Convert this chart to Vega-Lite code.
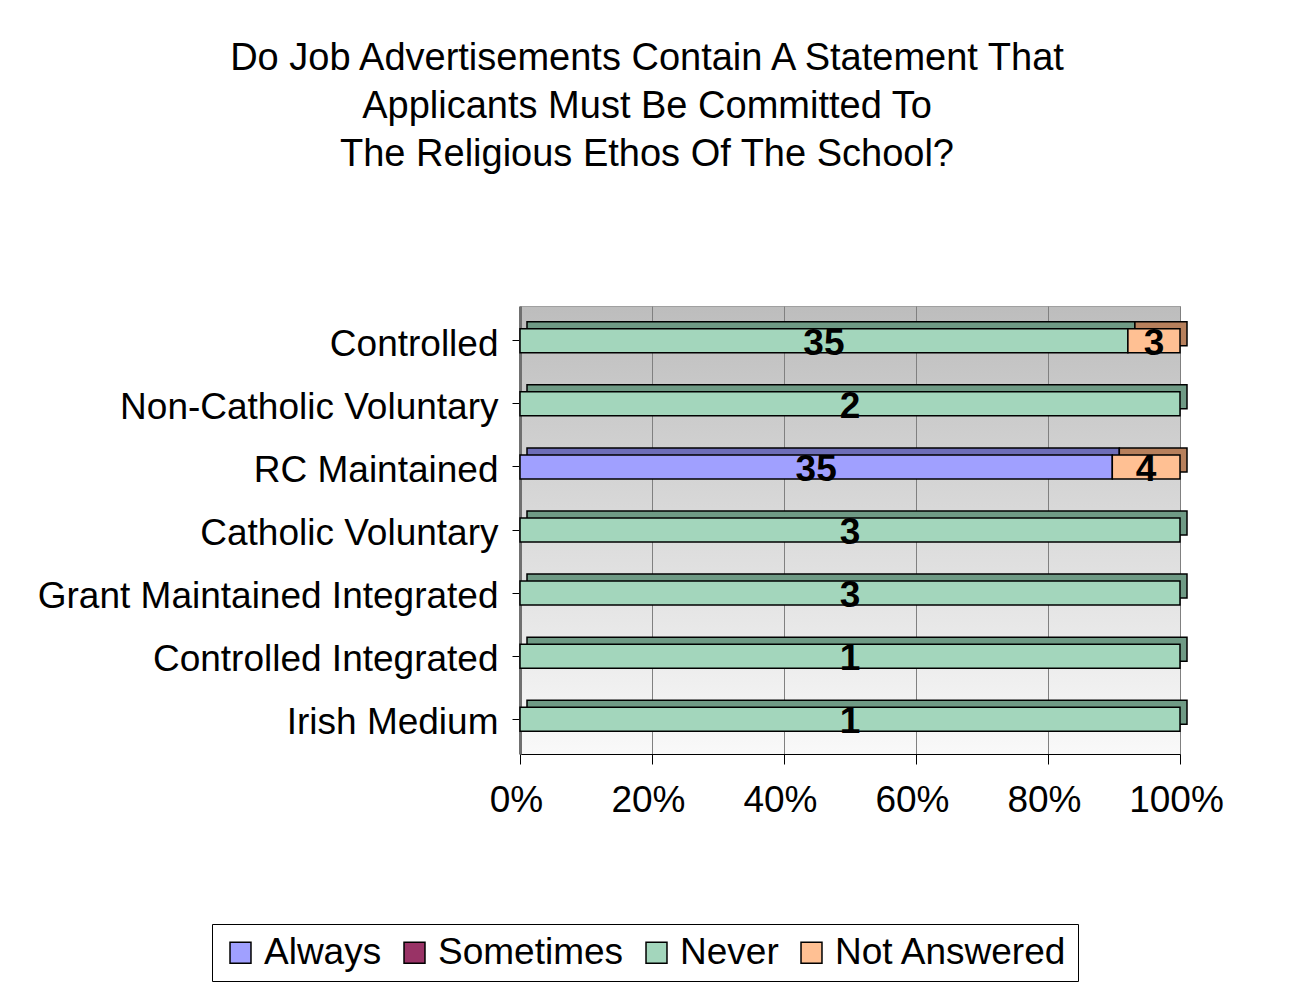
{
  "$schema": "https://vega.github.io/schema/vega-lite/v6.json",
  "autosize": "none",
  "width": 660,
  "height": 448,
  "padding": {"left": 520, "top": 306, "right": 110, "bottom": 237},
  "background": "white",
  "title": {
    "text": ["Do Job Advertisements Contain A Statement That", "Applicants Must Be Committed To", "The Religious Ethos Of The School?"],
    "font": "Liberation Sans", "fontSize": 38, "fontWeight": "normal", "lineHeight": 48,
    "anchor": "middle", "frame": "group", "dx": -203, "offset": 132, "color": "black"
  },
  "config": {
    "font": "Liberation Sans",
    "view": {
      "stroke": "#a0a0a0",
      "fill": {"gradient": "linear", "x1": 0, "y1": 0, "x2": 0, "y2": 1,
        "stops": [{"offset": 0, "color": "#bdbdbd"}, {"offset": 1, "color": "#f9f9f9"}]}
    }
  },
  "data": {"values": [
    {"cat": "Controlled", "series": "Never", "count": 35},
    {"cat": "Controlled", "series": "Not Answered", "count": 3},
    {"cat": "Non-Catholic Voluntary", "series": "Never", "count": 2},
    {"cat": "RC Maintained", "series": "Always", "count": 35},
    {"cat": "RC Maintained", "series": "Not Answered", "count": 4},
    {"cat": "Catholic Voluntary", "series": "Never", "count": 3},
    {"cat": "Grant Maintained Integrated", "series": "Never", "count": 3},
    {"cat": "Controlled Integrated", "series": "Never", "count": 1},
    {"cat": "Irish Medium", "series": "Never", "count": 1}
  ]},
  "transform": [
    {"stack": "count", "groupby": ["cat"], "offset": "normalize", "sort": [{"field": "series", "order": "ascending"}], "as": ["x0", "x1"]},
    {"calculate": "(datum.x0 + datum.x1) / 2", "as": "xm"}
  ],
  "encoding": {
    "y": {
      "field": "cat", "type": "nominal",
      "sort": ["Controlled", "Non-Catholic Voluntary", "RC Maintained", "Catholic Voluntary", "Grant Maintained Integrated", "Controlled Integrated", "Irish Medium"],
      "scale": {"paddingInner": 0.5, "paddingOuter": 0.3},
      "axis": {"title": null, "labelFontSize": 37, "labelColor": "black", "labelFont": "Liberation Sans", "tickSize": 8, "tickColor": "black", "labelPadding": 14, "labelOffset": 4, "domainColor": "#707070", "domainWidth": 3, "labelLimit": 600}
    }
  },
  "layer": [
    {
      "mark": {"type": "bar", "size": 24, "xOffset": 7, "x2Offset": 7, "yOffset": -7, "y2Offset": -7, "stroke": "black", "strokeWidth": 1.5},
      "encoding": {
        "x": {"field": "x0", "type": "quantitative", "scale": {"domain": [0, 1], "nice": false},
          "axis": {"title": null, "format": "%", "values": [0, 0.2, 0.4, 0.6, 0.8, 1], "labelFlush": false, "grid": true, "gridColor": "#808080", "domainColor": "black", "tickColor": "black", "tickSize": 10, "labelFontSize": 37, "labelColor": "black", "labelFont": "Liberation Sans", "labelPadding": 18, "labelOffset": -4}},
        "x2": {"field": "x1"},
        "color": {"field": "series", "type": "nominal",
          "scale": {"domain": ["Always", "Sometimes", "Never", "Not Answered"], "range": ["#6E6EB8", "#6B2447", "#6F9A85", "#B7805C"]},
          "legend": null}
      }
    },
    {
      "mark": {"type": "bar", "size": 24, "stroke": "black", "strokeWidth": 1.5},
      "encoding": {
        "x": {"field": "x0", "type": "quantitative"},
        "x2": {"field": "x1"},
        "fill": {"field": "series", "type": "nominal",
          "scale": {"domain": ["Always", "Sometimes", "Never", "Not Answered"], "range": ["#A0A0FF", "#993366", "#A3D6BC", "#FFC093"]},
          "legend": {"title": null, "orient": "none", "legendX": -308, "legendY": 618, "direction": "horizontal",
            "strokeColor": "black", "fillColor": "white", "padding": 10, "symbolType": "square", "symbolSize": 440,
            "symbolStrokeColor": "black", "symbolStrokeWidth": 1.5, "labelFontSize": 37, "labelFont": "Liberation Sans", "labelColor": "black",
            "labelOffset": 5, "columnPadding": 14, "labelLimit": 400}}
      }
    },
    {
      "mark": {"type": "text", "fontSize": 37, "fontWeight": "bold", "baseline": "middle", "dy": 3, "color": "black"},
      "encoding": {
        "x": {"field": "xm", "type": "quantitative"},
        "text": {"field": "count", "type": "quantitative"}
      }
    }
  ],
  "resolve": {"scale": {"color": "independent"}}
}
